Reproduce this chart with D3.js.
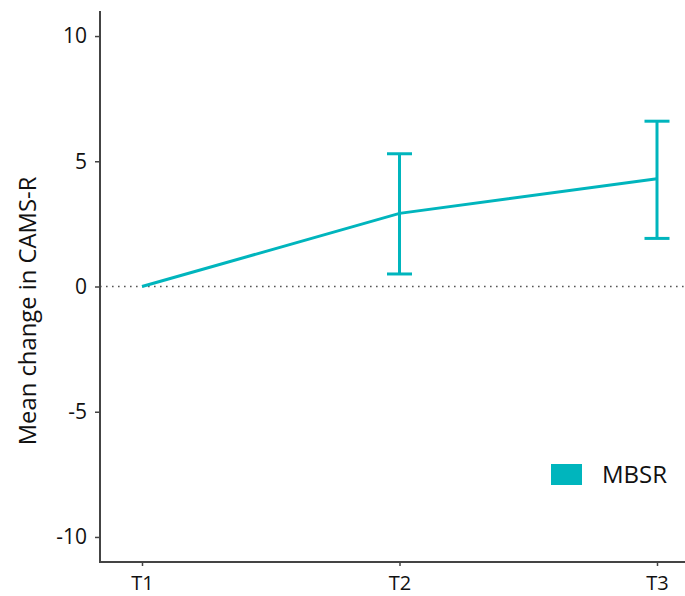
<!DOCTYPE html>
<html><head><meta charset="utf-8">
<script src="https://cdn.jsdelivr.net/npm/d3@7"></script>
<style>body{margin:0;background:#fff}svg{display:block}text{font-family:"Open Sans",sans-serif;fill:#111}</style>
</head><body>
<svg id="c" width="685" height="596"></svg>
<script>
const categories = ["T1","T2","T3"];
const means = [0, 2.92, 4.3];
const lower = [null, 0.5, 1.92];
const upper = [null, 5.3, 6.6];
const yTicks = [-10,-5,0,5,10];
const seriesName = "MBSR";
const color = "#00b5bd";

const svg = d3.select("#c");
const x = d3.scalePoint().domain(categories).range([142, 657]);
const y = d3.scaleLinear().domain([-11, 11]).range([562, 11]);
const x0 = 100, x1 = 685;

// zero dotted line
svg.append("line").attr("x1", x0).attr("x2", x1).attr("y1", y(0)).attr("y2", y(0))
  .attr("stroke", "#555").attr("stroke-width", 1.6).attr("stroke-dasharray", "1.6,4.4");

// y axis
const ya = svg.append("g").attr("transform", `translate(${x0},0)`)
  .call(d3.axisLeft(y).tickValues(yTicks).tickFormat(d => String(d)).tickSize(5).tickSizeOuter(0).tickPadding(8));
ya.select(".domain").remove();
ya.selectAll(".tick line").attr("stroke", "#444").attr("stroke-width", 1.5);
ya.selectAll(".tick text").style("font-size", "21px").attr("fill", "#111");
svg.append("line").attr("x1", x0).attr("x2", x0).attr("y1", y(11)).attr("y2", y(-11))
  .attr("stroke", "#444").attr("stroke-width", 2);

// x axis
const xa = svg.append("g").attr("transform", `translate(0,${y(-11)})`)
  .call(d3.axisBottom(x).tickSize(4).tickSizeOuter(0).tickPadding(10));
xa.select(".domain").remove();
xa.selectAll(".tick line").attr("stroke", "#444").attr("stroke-width", 1.5);
xa.selectAll(".tick text").style("font-size", "20px").attr("fill", "#111");
svg.append("line").attr("x1", x0 - 1).attr("x2", x1).attr("y1", y(-11)).attr("y2", y(-11))
  .attr("stroke", "#444").attr("stroke-width", 2);

// y title
svg.append("text").attr("transform", `translate(36,311) rotate(-90)`)
  .attr("text-anchor", "middle").style("font-size", "23.8px").text("Mean change in CAMS-R");

// line
const pts = categories.map((c, i) => ({c, m: means[i], lo: lower[i], hi: upper[i]}));
svg.append("path").datum(pts)
  .attr("d", d3.line().x(d => x(d.c)).y(d => y(d.m)))
  .attr("fill", "none").attr("stroke", color).attr("stroke-width", 3);

// error bars
const eb = svg.append("g").selectAll("g").data(pts.filter(d => d.lo != null)).join("g")
  .attr("stroke", color).attr("stroke-width", 3);
eb.append("line").attr("x1", d => x(d.c)).attr("x2", d => x(d.c))
  .attr("y1", d => y(d.lo)).attr("y2", d => y(d.hi));
eb.append("line").attr("x1", d => x(d.c) - 12.5).attr("x2", d => x(d.c) + 12.5)
  .attr("y1", d => y(d.hi)).attr("y2", d => y(d.hi));
eb.append("line").attr("x1", d => x(d.c) - 12.5).attr("x2", d => x(d.c) + 12.5)
  .attr("y1", d => y(d.lo)).attr("y2", d => y(d.lo));

// legend
svg.append("rect").attr("x", 551).attr("y", 464).attr("width", 31).attr("height", 21).attr("fill", color);
svg.append("text").attr("x", 602).attr("y", 483).style("font-size", "24px").text(seriesName);
</script>
</body></html>
